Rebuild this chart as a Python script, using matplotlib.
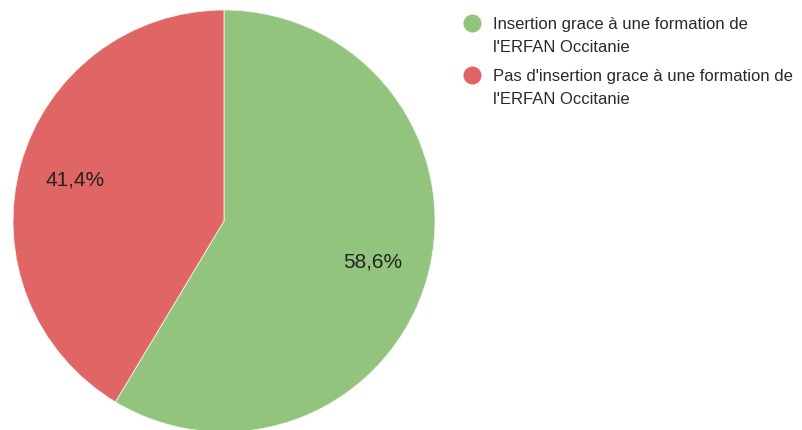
import matplotlib
matplotlib.use("Agg")
import matplotlib.pyplot as plt

# Data
categories = ["Insertion grace à une formation de\nl'ERFAN Occitanie",
              "Pas d'insertion grace à une formation de\nl'ERFAN Occitanie"]
values = [58.6, 41.4]
colors = ["#93c47d", "#e06666"]

W, H = 803, 430
plt.rcParams['font.family'] = ['Liberation Sans', 'DejaVu Sans']
fig = plt.figure(figsize=(W / 100, H / 100), dpi=100)

# Pie axes: center (224, 221) px, radius 211 px
cx, cy, r = 224, 221, 211
ax = fig.add_axes([(cx - r) / W, (H - cy - r) / H, 2 * r / W, 2 * r / H])
wedges, texts, autotexts = ax.pie(
    values, colors=colors, startangle=90, counterclock=False,
    autopct=lambda p: f"{p:.1f}%".replace('.', ','), pctdistance=0.73,
    wedgeprops=dict(linewidth=0.6, edgecolor='#f0f0f0'),
    textprops=dict(fontsize=15, color='#222222'))
ax.set_xlim(-1, 1)
ax.set_ylim(-1, 1)
ax.set_aspect('equal')
ax.axis('off')

# Legend drawn in a dedicated overlay axes using pixel coordinates
lax = fig.add_axes([0, 0, 1, 1])
lax.set_xlim(0, W)
lax.set_ylim(H, 0)
lax.axis('off')
first_baselines = [29, 81]
line_step = 22.5
for lab, col, yb in zip(categories, colors, first_baselines):
    lax.plot([472], [yb - 6.5], marker='o', markersize=13, color=col,
             markeredgewidth=0, linestyle='none')
    for i, line in enumerate(lab.split('\n')):
        lax.text(493, yb + i * line_step, line, fontsize=12, color='#2a2a2a',
                 ha='left', va='baseline')

fig.savefig("out.png", dpi=100)
